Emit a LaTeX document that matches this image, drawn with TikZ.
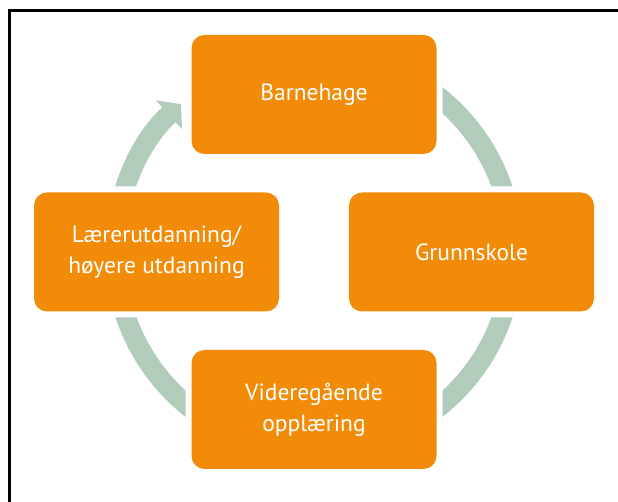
\documentclass[tikz,border=0pt]{standalone}
\usepackage{fontspec}
\setmainfont{PT Sans}
\usetikzlibrary{arrows.meta, positioning}
\definecolor{stageorange}{RGB}{242,140,8}
\definecolor{cyclegreen}{RGB}{178,204,188}

\begin{document}
\begin{tikzpicture}[
x=1pt, y=1pt,
stagetexts/.style = {text=white, font=\fontsize{23.5}{31}\selectfont},
stagenode/.style = {stagetexts, rectangle, rounded corners=13pt, fill=stageorange, minimum width=245pt, minimum height=119pt, inner sep=0pt, outer sep=0pt, align=center, preaction={draw=white, line width=12pt}},
cycleline/.style = {draw=cyclegreen, line width=20pt},
frameline/.style = {draw=black, line width=3pt}
]
\useasboundingbox (0,0) rectangle (618,502);
\draw[frameline] (9.5,-5) |- (625,491.5);

\coordinate (hub) at (314,250);
\draw[cycleline, -{Triangle[width=39pt, length=16pt, line width=0pt]}] (hub) ++(180:199) arc[start angle=180, end angle=132, radius=199];
\draw[cycleline] (hub) ++(90:199) arc[start angle=90, end angle=-180, radius=199];

\node[stagenode, above = 98pt of hub] (barnehage) {Barnehage};
\node[stagenode, right = 35pt of hub] (grunnskole) {Grunnskole};
\node[stagenode, below = 98pt of hub] (vgs) {Videregående\\opplæring};
\node[stagenode, left = 35pt of hub] (laerer) {Lærerutdanning/\\høyere utdanning};
\end{tikzpicture}
\end{document}
